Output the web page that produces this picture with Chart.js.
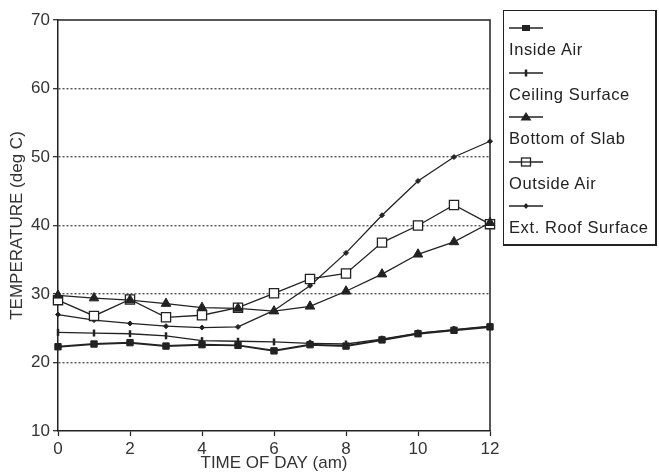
<!DOCTYPE html>
<html>
<head>
<meta charset="utf-8">
<script src="https://cdn.jsdelivr.net/npm/chart.js@4"></script>
<style>
  html, body { margin: 0; padding: 0; background: #fff; }
  #wrap { position: relative; width: 659px; height: 474px; }
  #legend {
    position: absolute; left: 503px; top: 10px; width: 151px; height: 233px;
    border: 1px solid #222; border-right-width: 2px; border-bottom-width: 2px;
    font-family: "Liberation Sans", Arial, sans-serif; font-size: 16.5px;
    letter-spacing: 0.6px; color: #222;
  }
  .item { position: absolute; left: 5px; }
  .item svg { display: block; }
  .item span { display: block; line-height: 20px; margin-top: 4px; white-space: nowrap; }
</style>
</head>
<body>
<div id="wrap">
  <canvas id="tempChart" width="659" height="474"></canvas>
  <div id="legend"></div>
</div>
<script>
// hours 0..12 am
const hours = [0, 1, 2, 3, 4, 5, 6, 7, 8, 9, 10, 11, 12];
const xTicks = [0, 2, 4, 6, 8, 10, 12];
const yTicks = [10, 20, 30, 40, 50, 60, 70];

const insideAir      = [22.3, 22.7, 22.9, 22.4, 22.6, 22.5, 21.7, 22.6, 22.4, 23.3, 24.2, 24.7, 25.2];
const ceilingSurface = [24.4, 24.3, 24.2, 23.9, 23.2, 23.1, 23.0, 22.8, 22.7, 23.4, 24.3, 24.8, 25.3];
const bottomOfSlab   = [29.8, 29.4, 29.1, 28.6, 28.0, 27.9, 27.5, 28.2, 30.4, 32.9, 35.8, 37.6, 40.4];
const outsideAir     = [29.1, 26.8, 29.2, 26.6, 26.9, 28.0, 30.1, 32.2, 33.0, 37.5, 40.0, 43.0, 40.2];
const extRoofSurface = [27.0, 26.2, 25.7, 25.3, 25.1, 25.2, 27.6, 31.2, 36.0, 41.5, 46.5, 50.0, 52.3];

const seriesNames = ['Inside Air', 'Ceiling Surface', 'Bottom of Slab', 'Outside Air', 'Ext. Roof Surface'];

const ink = '#222';
const font = { family: '"Liberation Sans", Arial, sans-serif', size: 17 };

function pts(values) {
    return hours.map((h, i) => ({ x: h, y: values[i] }));
}

function series(label, values, style) {
    return Object.assign({
        label: label,
        data: pts(values),
        borderColor: ink,
        backgroundColor: ink,
        pointBorderColor: ink,
        pointBackgroundColor: ink,
        borderWidth: 1.3,
        pointBorderWidth: 1,
        tension: 0,
        clip: false
    }, style);
}

// box around the plot (top and right sides)
const plotBox = {
    id: 'plotBox',
    beforeDatasetsDraw(chart) {
        const a = chart.chartArea, ctx = chart.ctx;
        ctx.save();
        ctx.strokeStyle = ink;
        ctx.lineWidth = 1.5;
        ctx.beginPath();
        ctx.moveTo(a.left, a.top);
        ctx.lineTo(a.right, a.top);
        ctx.lineTo(a.right, a.bottom);
        ctx.stroke();
        ctx.restore();
    }
};

const ctx = document.getElementById('tempChart').getContext('2d');
new Chart(ctx, {
    type: 'line',
    data: {
        datasets: [
            series(seriesNames[0], insideAir, { borderWidth: 2, pointStyle: 'rect', pointRadius: 4.5 }),
            series(seriesNames[1], ceilingSurface, { pointStyle: 'line', rotation: 90, pointRadius: 3.5, pointBorderWidth: 2.5 }),
            series(seriesNames[2], bottomOfSlab, { pointStyle: 'triangle', pointRadius: 5.5 }),
            series(seriesNames[3], outsideAir, { pointStyle: 'rect', pointRadius: 6.5, pointBackgroundColor: '#fff', pointBorderWidth: 1.3 }),
            series(seriesNames[4], extRoofSurface, { pointStyle: 'rectRot', pointRadius: 2.5 })
        ]
    },
    options: {
        responsive: false,
        animation: false,
        events: [],
        layout: { padding: { top: 20, right: 169, left: 0, bottom: 0 } },
        plugins: { legend: { display: false }, tooltip: { enabled: false } },
        scales: {
            x: {
                type: 'linear',
                min: 0,
                max: 12,
                afterBuildTicks: s => { s.ticks = xTicks.map(v => ({ value: v })); },
                afterFit: s => { s.height = 43; },
                ticks: { color: '#333', font: font, padding: 3, maxRotation: 0 },
                grid: { drawOnChartArea: false, tickLength: 5, tickColor: ink, tickWidth: 1.2 },
                border: { color: ink, width: 1.5 },
                title: { display: true, text: 'TIME OF DAY (am)', color: '#333', font: font, padding: { top: 0, bottom: 0 } }
            },
            y: {
                min: 10,
                max: 70,
                afterBuildTicks: s => { s.ticks = yTicks.map(v => ({ value: v })); },
                afterFit: s => { s.width = 58; },
                ticks: { color: '#333', font: font, padding: 3 },
                grid: {
                    color: c => (c.tick && c.tick.value > 10 && c.tick.value < 70) ? '#555' : 'rgba(0,0,0,0)',
                    lineWidth: 1.4,
                    tickLength: 5,
                    tickColor: ink,
                    tickWidth: 1.2
                },
                border: { color: ink, width: 1.5, dash: [2, 2] },
                title: { display: true, text: 'TEMPERATURE (deg C)', color: '#333', font: font, padding: { top: 7, bottom: 0 } }
            }
        }
    },
    plugins: [plotBox]
});

// legend: sample line above each label
const samples = [
    '<line x1="0" y1="7" x2="34" y2="7" stroke="#222" stroke-width="1.5"/><rect x="13" y="4" width="8" height="6" fill="#222"/>',
    '<line x1="0" y1="7" x2="34" y2="7" stroke="#222" stroke-width="1.5"/><line x1="17" y1="3.5" x2="17" y2="10.5" stroke="#222" stroke-width="2.5"/>',
    '<line x1="0" y1="7" x2="34" y2="7" stroke="#222" stroke-width="1.5"/><polygon points="17,2 22.5,10.5 11.5,10.5" fill="#222"/>',
    '<line x1="0" y1="7" x2="34" y2="7" stroke="#222" stroke-width="1.3"/><rect x="12.5" y="3" width="9" height="8" fill="#fff" stroke="#222" stroke-width="1.3"/><line x1="12.5" y1="7" x2="21.5" y2="7" stroke="#222" stroke-width="1.3"/>',
    '<line x1="0" y1="7" x2="34" y2="7" stroke="#222" stroke-width="1.5"/><polygon points="17,4 19.5,7 17,10 14.5,7" fill="#222"/>'
];
const legend = document.getElementById('legend');
seriesNames.forEach((name, i) => {
    const div = document.createElement('div');
    div.className = 'item';
    div.style.top = (10 + i * 44.5) + 'px';
    div.innerHTML = '<svg width="36" height="14">' + samples[i] + '</svg><span>' + name + '</span>';
    legend.appendChild(div);
});
</script>
</body>
</html>
